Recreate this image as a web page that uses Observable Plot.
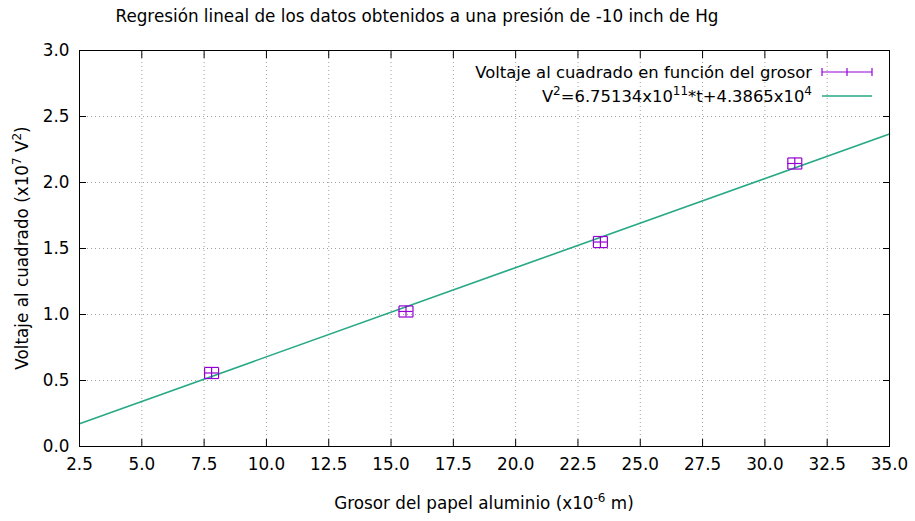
<!DOCTYPE html>
<html><head><meta charset="utf-8">
<script src="https://cdn.jsdelivr.net/npm/d3@7"></script>
<script src="https://cdn.jsdelivr.net/npm/@observablehq/plot@0.6"></script>
<style>
body{margin:0;background:#fff;font-family:"DejaVu Sans",sans-serif;}
#wrap{position:relative;width:915px;height:521px;}
#title{position:absolute;left:0;top:6px;width:834px;text-align:center;font-size:16.8px;color:#000;}
#wrap svg{position:absolute;left:0;top:0;}
</style></head><body>
<div id="wrap"><div id="title">Regresión lineal de los datos obtenidos a una presión de -10 inch de Hg</div></div>
<script>
// Data (thickness in x10^-6 m, voltage squared in x10^7 V^2)
const thickness = [7.8, 15.6, 23.4, 31.2];
const voltageSq = [0.557, 1.023, 1.549, 2.144];
const thicknessErr = [0.28, 0.28, 0.28, 0.28];
const voltageSqErr = [0.042, 0.042, 0.042, 0.042];
// Fit: V^2 = 6.75134e11 * t + 4.3865e4 (t in m, V^2 in V^2)
const fitSlope = 6.75134e11;
const fitIntercept = 4.3865e4;
const xTicks = [2.5, 5.0, 7.5, 10.0, 12.5, 15.0, 17.5, 20.0, 22.5, 25.0, 27.5, 30.0, 32.5, 35.0];
const yTicks = [0.0, 0.5, 1.0, 1.5, 2.0, 2.5, 3.0];
const xDomain = [2.5, 35.0];
const yDomain = [0.0, 3.0];

const pts = thickness.map((t, i) => ({t, v: voltageSq[i], dt: thicknessErr[i], dv: voltageSqErr[i]}));
const fit = xDomain.map(t => ({t, v: (fitSlope * t * 1e-6 + fitIntercept) / 1e7}));

const vCap = {draw(ctx, size){const r = Math.sqrt(size/Math.PI); ctx.moveTo(0,-r); ctx.lineTo(0,r);}};
const hCap = {draw(ctx, size){const r = Math.sqrt(size/Math.PI); ctx.moveTo(-r,0); ctx.lineTo(r,0);}};

const purple = "#9400d3";
const green = "#26a984";
const gridStyle = {stroke: "#a0a0a0", strokeDasharray: "1,3", strokeWidth: 1};
const fmt = d => d.toFixed(1);
const FS = 16.8;

const chart = Plot.plot({
  width: 915, height: 521,
  marginLeft: 79, marginRight: 26, marginTop: 50, marginBottom: 75,
  style: {fontFamily: "DejaVu Sans", fontSize: FS + "px", color: "#000", background: "transparent"},
  x: {domain: xDomain},
  y: {domain: yDomain},
  marks: [
    Plot.ruleX(xTicks.slice(1, -1), gridStyle),
    Plot.ruleY(yTicks.slice(1, -1), gridStyle),
    Plot.axisX(xTicks, {anchor: "bottom", tickSize: 0, tickPadding: 12, tickFormat: fmt, label: null}),
    Plot.axisY(yTicks, {anchor: "left", tickSize: 0, tickPadding: 10, tickFormat: fmt, label: null}),
    Plot.axisX(xTicks, {anchor: "bottom", tickSize: -7, tickFormat: () => "", label: null}),
    Plot.axisX(xTicks, {anchor: "top", tickSize: -7, tickFormat: () => "", label: null}),
    Plot.axisY(yTicks, {anchor: "left", tickSize: -7, tickFormat: () => "", label: null}),
    Plot.axisY(yTicks, {anchor: "right", tickSize: -7, tickFormat: () => "", label: null}),
    Plot.line(fit, {x: "t", y: "v", stroke: green, strokeWidth: 1.6}),
    Plot.ruleY(pts, {y: "v", x1: d => d.t - d.dt, x2: d => d.t + d.dt, stroke: purple, strokeWidth: 1.2}),
    Plot.ruleX(pts, {x: "t", y1: d => d.v - d.dv, y2: d => d.v + d.dv, stroke: purple, strokeWidth: 1.2}),
    Plot.dot(pts, {x: d => d.t - d.dt, y: "v", symbol: vCap, r: 5.5, stroke: purple, strokeWidth: 1.2, fill: "none"}),
    Plot.dot(pts, {x: d => d.t + d.dt, y: "v", symbol: vCap, r: 5.5, stroke: purple, strokeWidth: 1.2, fill: "none"}),
    Plot.dot(pts, {x: "t", y: d => d.v - d.dv, symbol: hCap, r: 7, stroke: purple, strokeWidth: 1.2, fill: "none"}),
    Plot.dot(pts, {x: "t", y: d => d.v + d.dv, symbol: hCap, r: 7, stroke: purple, strokeWidth: 1.2, fill: "none"}),
    Plot.frame({stroke: "#000", strokeWidth: 1})
  ]
});
document.getElementById("wrap").appendChild(chart);

// Axis labels and legend with superscripts
const svg = d3.select(chart);
const sx = chart.scale("x"), sy = chart.scale("y");
const xMid = (sx.apply(xDomain[0]) + sx.apply(xDomain[1])) / 2;
const yMid = (sy.apply(yDomain[0]) + sy.apply(yDomain[1])) / 2;

function supText(g, parts) {
  parts.forEach(p => {
    const ts = g.append("tspan").text(p.t);
    if (p.sup) ts.attr("dy", -7).attr("font-size", 12);
    else if (p.after) ts.attr("dy", 7);
  });
}
const xl = svg.append("text").attr("x", xMid).attr("y", 509).attr("text-anchor", "middle")
  .attr("font-family", "DejaVu Sans").attr("font-size", FS);
supText(xl, [{t: "Grosor del papel aluminio (x10"}, {t: "-6", sup: true}, {t: " m)", after: true}]);

const yl = svg.append("text").attr("transform", `translate(28,${yMid}) rotate(-90)`).attr("text-anchor", "middle")
  .attr("font-family", "DejaVu Sans").attr("font-size", FS);
supText(yl, [{t: "Voltaje al cuadrado (x10"}, {t: "7", sup: true}, {t: " V", after: true}, {t: "2", sup: true}, {t: ")", after: true}]);

const leg = svg.append("g").attr("font-family", "DejaVu Sans").attr("font-size", 16.4);
leg.append("text").attr("x", 812).attr("y", 78).attr("text-anchor", "end").text("Voltaje al cuadrado en función del grosor");
const l2 = leg.append("text").attr("x", 812).attr("y", 102).attr("text-anchor", "end");
supText(l2, [{t: "V"}, {t: "2", sup: true}, {t: "=6.75134x10", after: true}, {t: "11", sup: true}, {t: "*t+4.3865x10", after: true}, {t: "4", sup: true}]);
const lp = leg.append("g").attr("stroke", purple).attr("stroke-width", 1.2);
lp.append("line").attr("x1", 822).attr("x2", 872).attr("y1", 72).attr("y2", 72);
[822, 847, 872].forEach(x => lp.append("line").attr("x1", x).attr("x2", x).attr("y1", 68).attr("y2", 76));
leg.append("line").attr("x1", 822).attr("x2", 872).attr("y1", 96).attr("y2", 96).attr("stroke", green).attr("stroke-width", 1.6);
</script>
</body></html>
